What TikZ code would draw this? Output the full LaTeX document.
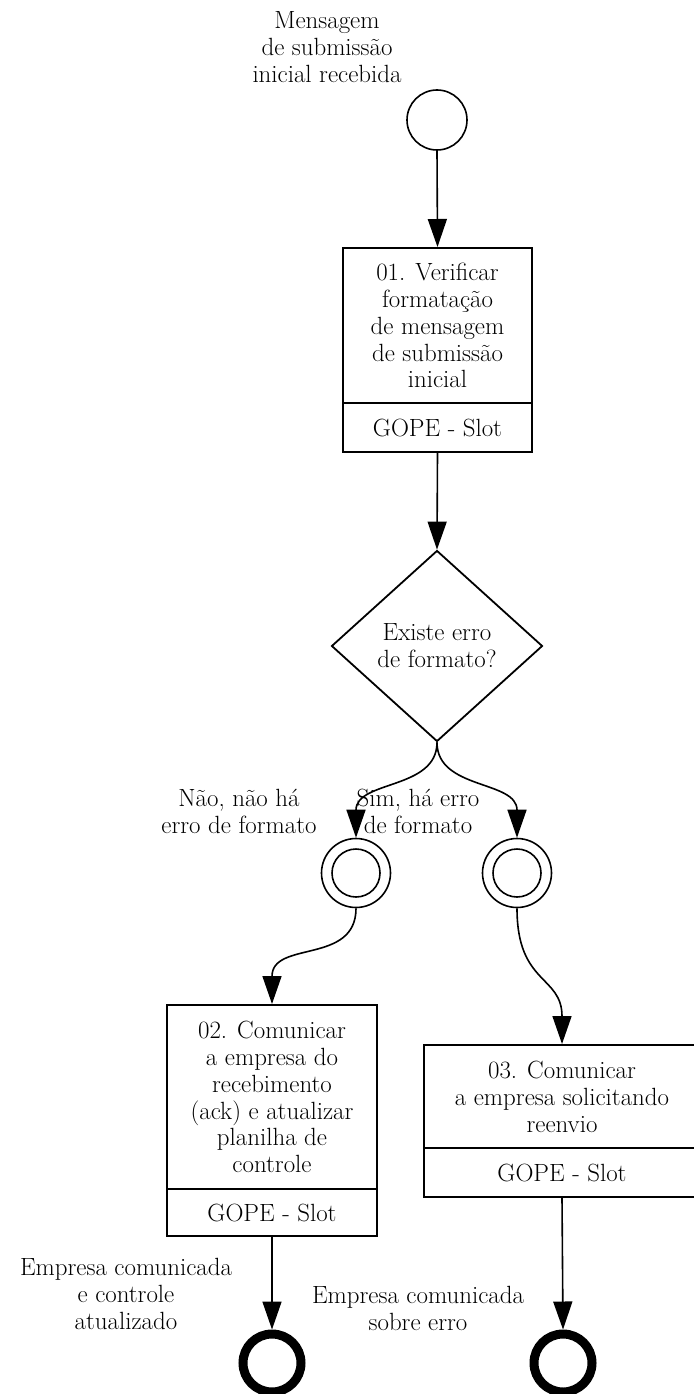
\documentclass[tikz,border=0pt]{standalone}
\usetikzlibrary{arrows.meta,shapes.geometric}
\tikzset{
  txt/.style={font=\fontsize{25}{27}\selectfont, align=center, inner sep=0pt},
  taskbox/.style={txt, draw, line width=2bp, rectangle},
  rolebox/.style={txt, draw, line width=2bp, rectangle},
  flow/.style={line width=1.6bp, -{Triangle[length=28bp,width=19bp]}},
  startev/.style={circle, draw, line width=1.6bp, minimum size=60bp, inner sep=0pt},
  midev/.style={circle, draw, line width=1.6bp, inner sep=0pt},
  endev/.style={circle, draw, line width=9bp, minimum size=58bp, inner sep=0pt},
  gate/.style={txt, diamond, draw, line width=1.8bp, minimum width=211bp, minimum height=191bp},
  lbl/.style={txt}
}
\begin{document}
\begin{tikzpicture}[x=1bp,y=-1bp]
\useasboundingbox (0,0) rectangle (694,1394);
\clip (0,0) rectangle (694,1394);
\fill[white] (0,0) rectangle (694,1394);

% start event
\node[startev] (start) at (437,120) {};
\node[lbl] (startlbl) at (327,47) {Mensagem\\de submissão\\inicial recebida};

% task 01
\node[taskbox, minimum width=189bp, minimum height=155bp] (t1) at (437.5,325.5)
  {01. Verificar\\formatação\\de mensagem\\de submissão\\inicial};
\node[rolebox, minimum width=189bp, minimum height=49bp] (r1) at (437.5,427.5) {GOPE - Slot};

% gateway
\node[gate] (dec) at (437,646) {Existe erro\\de formato?};

% intermediate events
\node[midev, minimum size=69bp] (i1) at (356,873) {};
\node[midev, minimum size=48bp] (i1in) at (356,873) {};
\node[midev, minimum size=69bp] (i2) at (517,873) {};
\node[midev, minimum size=48bp] (i2in) at (517,873) {};

\node[lbl] (nolbl) at (239,811) {Não, não há\\erro de formato};
\node[lbl] (yeslbl) at (418,811) {Sim, há erro\\de formato};

% task 02
\node[taskbox, minimum width=210bp, minimum height=184bp] (t2) at (272,1097)
  {02. Comunicar\\a empresa do\\recebimento\\(ack) e atualizar\\planilha de\\controle};
\node[rolebox, minimum width=210bp, minimum height=47bp] (r2) at (272,1212.5) {GOPE - Slot};

% task 03
\node[taskbox, minimum width=276bp, minimum height=103bp] (t3) at (562,1096.5)
  {03. Comunicar\\a empresa solicitando\\reenvio};
\node[rolebox, minimum width=276bp, minimum height=49bp] (r3) at (562,1172.5) {GOPE - Slot};

% end events
\node[endev] (e1) at (272,1363) {};
\node[endev] (e2) at (563,1363) {};
\node[lbl] (e1lbl) at (126,1294) {Empresa comunicada\\e controle\\atualizado};
\node[lbl] (e2lbl) at (418,1308) {Empresa comunicada\\sobre erro};

% connectors
\draw[flow] (start.south) -- (t1.north);
\draw[flow] (r1.south) -- (dec.north);
\draw[flow] (dec.south) .. controls (437,790) and (356,780) .. (i1.north);
\draw[flow] (dec.south) .. controls (437,790) and (517,780) .. (i2.north);
\draw[flow] (i1.south) .. controls (356,965) and (272,940) .. (t2.north);
\draw[flow] (i2.south) .. controls (517,985) and (562,975) .. (t3.north);
\draw[flow] (r2.south) -- (e1.north);
\draw[flow] (r3.south) -- (e2.north);
\end{tikzpicture}
\end{document}
